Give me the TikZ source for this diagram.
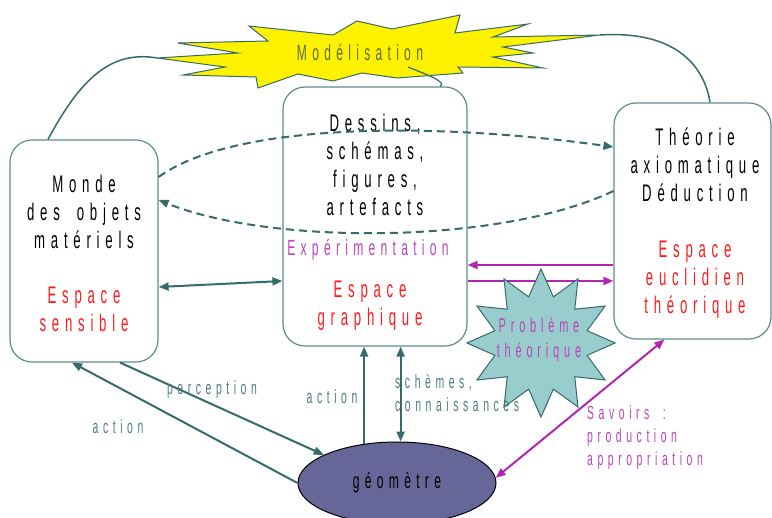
\documentclass[tikz,border=0pt]{standalone}
\usepackage{fontspec}
\setmainfont{Liberation Sans}[FakeStretch=0.55,LetterSpace=24,WordSpace=1.8]
\usetikzlibrary{arrows.meta, shapes.geometric, calc}
\definecolor{boxline}{HTML}{5E8C8C}
\definecolor{linkteal}{HTML}{356B6B}
\definecolor{lbteal}{HTML}{4E7C7C}
\definecolor{magline}{HTML}{B026B0}
\definecolor{magtext}{HTML}{BB44BB}
\definecolor{redtext}{HTML}{FF1A1A}
\definecolor{olive}{HTML}{5B6B45}
\definecolor{starfill}{HTML}{99CCCC}
\definecolor{geofill}{HTML}{666699}
\tikzset{
    >={Triangle[length=10pt,width=8pt]}, % pointes pleines
    every node/.style={font=\fontsize{22}{28}\selectfont, inner sep=0pt},
    big/.style={font=\fontsize{24}{28}\selectfont, align=center},
    box/.style={draw=boxline, line width=1.2pt, rounded corners=22pt},
    link/.style={draw=linkteal, line width=2pt},
    dashlink/.style={link, dash pattern=on 8pt off 5pt},
    maglink/.style={draw=magline, line width=2pt},
    lbl/.style={text=lbteal, font=\fontsize{19}{23}\selectfont},
}

\begin{document}
\begin{tikzpicture}[x=1pt, y=-1pt]
    \useasboundingbox (0,0) rectangle (772,518);

    % Modelisation
    \draw[draw=linkteal, line width=1pt, fill=yellow]
        (178,43) -- (268,41) -- (249,26) -- (333,35) -- (357,21) -- (392,29)
        -- (460,15) -- (455,33) -- (528,24) -- (493,37) -- (600,35) -- (503,47)
        -- (533,53) -- (493,57) -- (543,68) -- (458,67) -- (463,73) -- (397,78)
        -- (362,73) -- (333,81) -- (298,74) -- (258,88) -- (256,77) -- (183,75)
        -- (225,67) -- (157,58) -- (238,53) -- cycle;
    \coordinate (mL) at (157,58);
    \coordinate (mR) at (600,35);
    \coordinate (mB) at (408,67);
    \node[text=olive] (model) at (360,53) {Modélisation};

    % Boites
    \node[box, minimum width=148pt, minimum height=222pt] (monde) at (84,251) {};
    \node[box, minimum width=184pt, minimum height=259pt] (dessin) at (375,216.5) {};
    \node[box, minimum width=157pt, minimum height=236pt] (theo) at (692.5,221) {};

    \node[big] (mondeT) at (84,212) {Monde\\des objets\\matériels};
    \node[big, text=redtext] (mondeE) at (84,309.5) {Espace\\sensible};
    \node[big] (dessinT) at (375,165) {Dessins,\\schémas,\\figures,\\artefacts};
    \node[text=magtext] (exper) at (368,250) {Expérimentation};
    \node[big, text=redtext] (dessinE) at (370,306) {Espace\\graphique};
    \node[big] (theoT) at (695,165) {Théorie\\axiomatique\\Déduction};
    \node[big, text=redtext] (theoE) at (695,280) {Espace\\euclidien\\théorique};

    % geometre
    \node[ellipse, draw=black, line width=1pt, fill=geofill,
          minimum width=198pt, minimum height=82pt] (geo) at (397,483) {géomètre};

    % liens du haut
    \draw[link, line width=1.5pt] ([xshift=-36pt]monde.north)
        .. controls (80,80) and (110,50) .. (mL);
    \draw[link, line width=1.5pt] (mR) .. controls (680,30) and (705,70)
        .. ([xshift=17.5pt]theo.north);
    \draw[link, line width=1.2pt] (mB) .. controls (425,74) and (448,82)
        .. ([xshift=65pt]dessin.north);

    % pointilles
    \draw[dashlink, ->] ([yshift=74pt]monde.east)
        .. controls (230,125) and (420,120) .. ([yshift=74pt]theo.west);
    \draw[dashlink, ->] ([yshift=30pt]theo.west)
        .. controls (500,245) and (270,245) .. ([yshift=51pt]monde.east);

    % fleches horizontales
    \draw[link, <->] ([yshift=-36pt]monde.east) -- ([yshift=-64.5pt]dessin.west);
    \draw[maglink, ->] ([yshift=-44pt]theo.west) -- ([yshift=-48.5pt]dessin.east);
    \draw[maglink, ->] ([yshift=-64.5pt]dessin.east) -- ([yshift=-60pt]theo.west);

    % probleme
    \node[star, star points=12, star point ratio=1.55, minimum size=148pt,
          draw=linkteal, line width=1pt, fill=starfill] (pb) at (541,343) {};
    \node[align=center, text=magtext, font=\fontsize{20}{25}\selectfont]
        (pbT) at (539,340) {Problème\\théorique};

    % fleches du bas
    \draw[link, ->] (geo.west) -- ([xshift=-12pt]monde.south);
    \draw[link, ->] ([xshift=36pt]monde.south) -- (geo.159);
    \draw[link, ->] (geo.130) -- (geo.130 |- dessin.south);
    \draw[link, <->] (geo.85 |- dessin.south) -- (geo.85);
    \draw[maglink, <->] (geo.3) -- ([xshift=51pt]theo.south west);

    % etiquettes
    \node[lbl] (act1) at (118,427) {action};
    \node[lbl] (perc) at (212,390) {perception};
    \node[lbl] (act2) at (332,397) {action};
    \node[lbl, align=left, anchor=west] (schem) at (395,393.5) {schèmes,\\connaissances};
    \node[lbl, align=left, anchor=west, text=magtext] (savoir) at (587,437.5)
        {Savoirs :\\production\\appropriation};
\end{tikzpicture}
\end{document}
